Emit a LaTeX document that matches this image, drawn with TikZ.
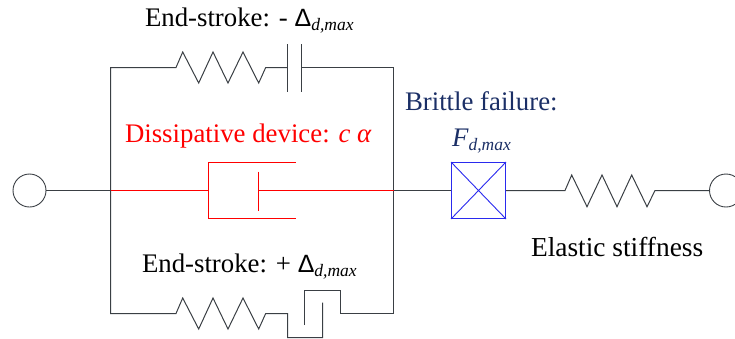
\documentclass[tikz,border=0pt]{standalone}
\usepackage{fontspec}
\setmainfont{Liberation Serif}
\newfontfamily\deltafont{Liberation Sans}
\definecolor{wire}{HTML}{3A3F44}
\definecolor{navy}{HTML}{1B2F66}
\definecolor{boxblue}{HTML}{2A2AEE}
\definecolor{devred}{RGB}{255,0,0}
\newcommand{\lab}{\fontsize{26.8}{30}\selectfont}
\newcommand{\sublab}{\fontsize{17.5}{20}\selectfont\itshape}
\newcommand{\Dl}{{\deltafont\fontsize{25}{28}\selectfont\symbol{"0394}}}
\tikzset{
  wireline/.style={draw=wire,line width=1pt,line join=miter},
  redline/.style={draw=devred,line width=1pt,line join=miter},
  terminal/.style={circle,draw=wire,line width=0.9pt,minimum size=33pt,inner sep=0pt},
  fusebox/.style={rectangle,draw=boxblue,line width=1pt,minimum width=54pt,minimum height=56pt,inner sep=0pt},
  txt/.style={anchor=base west,inner sep=0pt,outer sep=0pt},
}
\begin{document}
\begin{tikzpicture}[x=1pt,y=-1pt]
\useasboundingbox (0,0) rectangle (735,338);
% nodes
\node[terminal] (tl) at (29.5,190.5) {};
\node[terminal] (tr) at (726,190.5) {};
\node[fusebox] (fuse) at (478.5,190.5) {};
\coordinate (jl) at (110.5,190.5);
\coordinate (jr) at (393.5,190.5);
\coordinate (dcyl) at (208.5,190.5);
\coordinate (dpist) at (258.5,190.5);
\coordinate (pt) at (258.5,171.5);
\coordinate (pb) at (258.5,210.5);
% main line
\draw[wireline] (tl.east) -- (jl);
\draw[wireline] (jr) -- (fuse.west);
% elastic spring
\draw[wireline] (fuse.east) -- (565,190.5) -- (571.7,175) -- (587,206.7) -- (602,175) -- (617,206.7) -- (631.7,175) -- (647,206.7) -- (655,190.5) -- (tr.west);
% upper branch
\draw[wireline] (jl) -- (110.5,67.5) -- (176,67.5) -- (182.7,52) -- (198.7,83) -- (213,52) -- (228,83) -- (243,52) -- (258.7,83) -- (265.7,67.5) -- (287.5,67.5);
\draw[wireline] (287.5,44) -- (287.5,92);
\draw[wireline] (301.5,44) -- (301.5,92);
\draw[wireline] (301.5,67.5) -- (393.5,67.5) -- (jr);
% lower branch
\draw[wireline] (jl) -- (110.5,313.5) -- (176,313.5) -- (182.7,298) -- (198.7,329) -- (213,298) -- (228,329) -- (243,298) -- (258.7,329) -- (265.7,313.5) -- (287.5,313.5) -- (287.5,337.5) -- (322.5,337.5) -- (322.5,302.5);
\draw[wireline] (304.5,325) -- (304.5,290.5) -- (340.5,290.5) -- (340.5,313.5) -- (393.5,313.5) -- (jr);
% damper and its rod
\draw[redline] (jl) -- (dcyl);
\draw[redline] (295.5,162.5) -- (208.5,162.5) -- (208.5,218.5) -- (295.5,218.5);
\draw[redline] (pt) -- (pb);
\draw[redline] (dpist) -- (jr);
% fuse cross
\draw[draw=boxblue,line width=0.9pt] (fuse.north west) -- (fuse.south east) (fuse.north east) -- (fuse.south west);
% labels
\node[txt] (t1) at (145,26) {\lab End-stroke: - \Dl\raisebox{-4.5pt}{\sublab d,max}};
\node[txt] (t2) at (142,272) {\lab End-stroke: + \Dl\raisebox{-4.5pt}{\sublab d,max}};
\node[txt,text=devred] (t3) at (125,142.5) {\lab Dissipative device: \textit{c α}};
\node[txt,text=navy] (t4) at (405,110) {\lab Brittle failure:};
\node[txt,text=navy] (t5) at (452,146) {\lab\textit{F}\raisebox{-4.5pt}{\sublab d,max}};
\node[txt,text=black] (t6) at (531,256) {\fontsize{27.4}{30}\selectfont Elastic stiffness};
\end{tikzpicture}
\end{document}
